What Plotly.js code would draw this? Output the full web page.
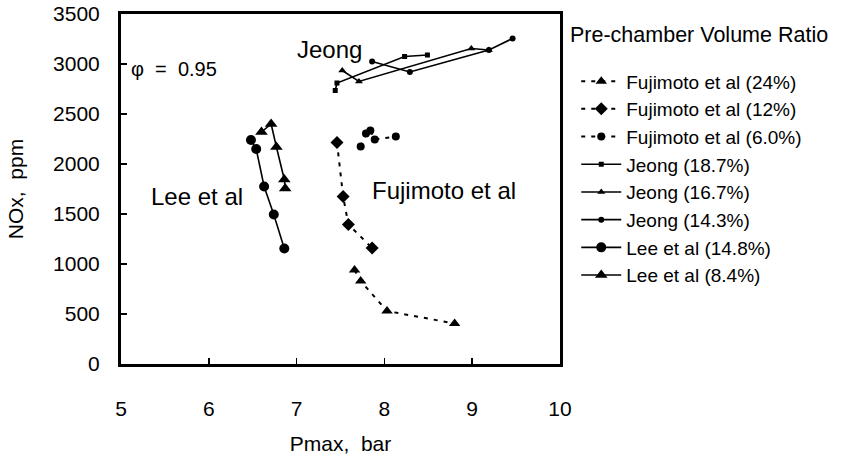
<!DOCTYPE html>
<html>
<head>
<meta charset="utf-8">
<script src="https://cdn.plot.ly/plotly-3.0.1.min.js"></script>
<style>html,body{margin:0;padding:0;background:#fff;}#chart{width:843px;height:464px;}</style>
</head>
<body>
<div id="chart"></div>
<script>
// Fujimoto et al
const fuji24X = [7.66, 7.73, 8.03, 8.80];
const fuji24Y = [940, 830, 530, 405];
const fuji12X = [7.46, 7.53, 7.59, 7.86];
const fuji12Y = [2215, 1675, 1395, 1160];
const fuji6X = [7.73, 7.79, 7.84, 7.89, 8.13];
const fuji6Y = [2175, 2305, 2335, 2245, 2275];
// Jeong
const jeong187X = [7.44, 7.46, 8.23, 8.49];
const jeong187Y = [2735, 2810, 3075, 3090];
const jeong167X = [7.52, 7.71, 8.99, 9.19];
const jeong167Y = [2935, 2825, 3155, 3140];
const jeong143X = [7.86, 8.29, 9.19, 9.46];
const jeong143Y = [3025, 2920, 3140, 3255];
// Lee et al
const lee148X = [6.48, 6.54, 6.63, 6.74, 6.86];
const lee148Y = [2240, 2150, 1775, 1495, 1155];
const lee84X = [6.60, 6.71, 6.77, 6.86, 6.87];
const lee84Y = [2320, 2400, 2170, 1845, 1755];

const seriesNames = [
  'Fujimoto et al (24%)', 'Fujimoto et al (12%)', 'Fujimoto et al (6.0%)',
  'Jeong (18.7%)', 'Jeong (16.7%)', 'Jeong (14.3%)',
  'Lee et al (14.8%)', 'Lee et al (8.4%)'
];
const xTicks = [5, 6, 7, 8, 9, 10];
const yTicks = [0, 500, 1000, 1500, 2000, 2500, 3000, 3500];

const FONT = 'Liberation Sans, Arial, sans-serif';
const dashed = {color: '#000', width: 2, dash: '4px,6px'};
const solid = {color: '#000', width: 1.6};

function tr(x, y, name, line, symbol, size) {
  return {x: x, y: y, name: name, type: 'scatter', mode: 'lines+markers',
    line: line, marker: {symbol: symbol, size: size, color: '#000', line: {width: 0}}};
}

const data = [
  tr(fuji24X, fuji24Y, seriesNames[0], dashed, 'triangle-up', 10),
  tr(fuji12X, fuji12Y, seriesNames[1], dashed, 'diamond', 10),
  tr(fuji6X, fuji6Y, seriesNames[2], dashed, 'circle', 8),
  tr(jeong187X, jeong187Y, seriesNames[3], solid, 'square', 5),
  tr(jeong167X, jeong167Y, seriesNames[4], solid, 'triangle-up', 7),
  tr(jeong143X, jeong143Y, seriesNames[5], solid, 'circle', 6),
  tr(lee148X, lee148Y, seriesNames[6], solid, 'circle', 10),
  tr(lee84X, lee84Y, seriesNames[7], solid, 'triangle-up', 11)
];

const axisCommon = {
  showgrid: false, zeroline: false, showline: true, linecolor: '#000', linewidth: 3,
  mirror: true, ticks: 'inside', ticklen: 6, tickwidth: 1.5, tickcolor: '#000',
  tickfont: {family: FONT, size: 21, color: '#000'}, automargin: false, fixedrange: true
};

const layout = {
  width: 843, height: 464,
  margin: {l: 121, r: 283, t: 14, b: 100, pad: 0},
  paper_bgcolor: '#fff', plot_bgcolor: '#fff',
  font: {family: FONT, color: '#000'},
  xaxis: Object.assign({}, axisCommon, {
    range: [5, 10], tickvals: xTicks, ticktext: xTicks.map(String),
    ticklabelstandoff: 24,
    title: {text: 'Pmax,  bar', font: {family: FONT, size: 21, color: '#000'}, standoff: 18}
  }),
  yaxis: Object.assign({}, axisCommon, {
    range: [0, 3500], tickvals: yTicks, ticktext: yTicks.map(String),
    ticklabelstandoff: 14,
    title: {text: 'NOx,  ppm', font: {family: FONT, size: 21, color: '#000'}, standoff: 24}
  }),
  showlegend: true,
  legend: {
    x: 1.037, xanchor: 'left', y: 0.862, yanchor: 'top',
    font: {family: FONT, size: 19, color: '#000'},
    bgcolor: 'rgba(0,0,0,0)', borderwidth: 0, tracegroupgap: 0, itemwidth: 40
  },
  annotations: [
    {xref: 'paper', yref: 'paper', x: 1.018, y: 0.94, xanchor: 'left', yanchor: 'middle',
     text: 'Pre-chamber Volume Ratio', showarrow: false, font: {family: FONT, size: 21.5, color: '#000'}},
    {x: 5.09, y: 2950, xanchor: 'left', yanchor: 'middle', text: 'φ  =  0.95', showarrow: false,
     font: {family: FONT, size: 20, color: '#000'}},
    {x: 6.98, y: 3150, xanchor: 'left', yanchor: 'middle', text: 'Jeong', showarrow: false,
     font: {family: FONT, size: 24, color: '#000'}},
    {x: 5.32, y: 1680, xanchor: 'left', yanchor: 'middle', text: 'Lee et al', showarrow: false,
     font: {family: FONT, size: 24, color: '#000'}},
    {x: 7.84, y: 1740, xanchor: 'left', yanchor: 'middle', text: 'Fujimoto et al', showarrow: false,
     font: {family: FONT, size: 24, color: '#000'}}
  ]
};

Plotly.newPlot('chart', data, layout, {staticPlot: true, displayModeBar: false});
</script>
</body>
</html>
